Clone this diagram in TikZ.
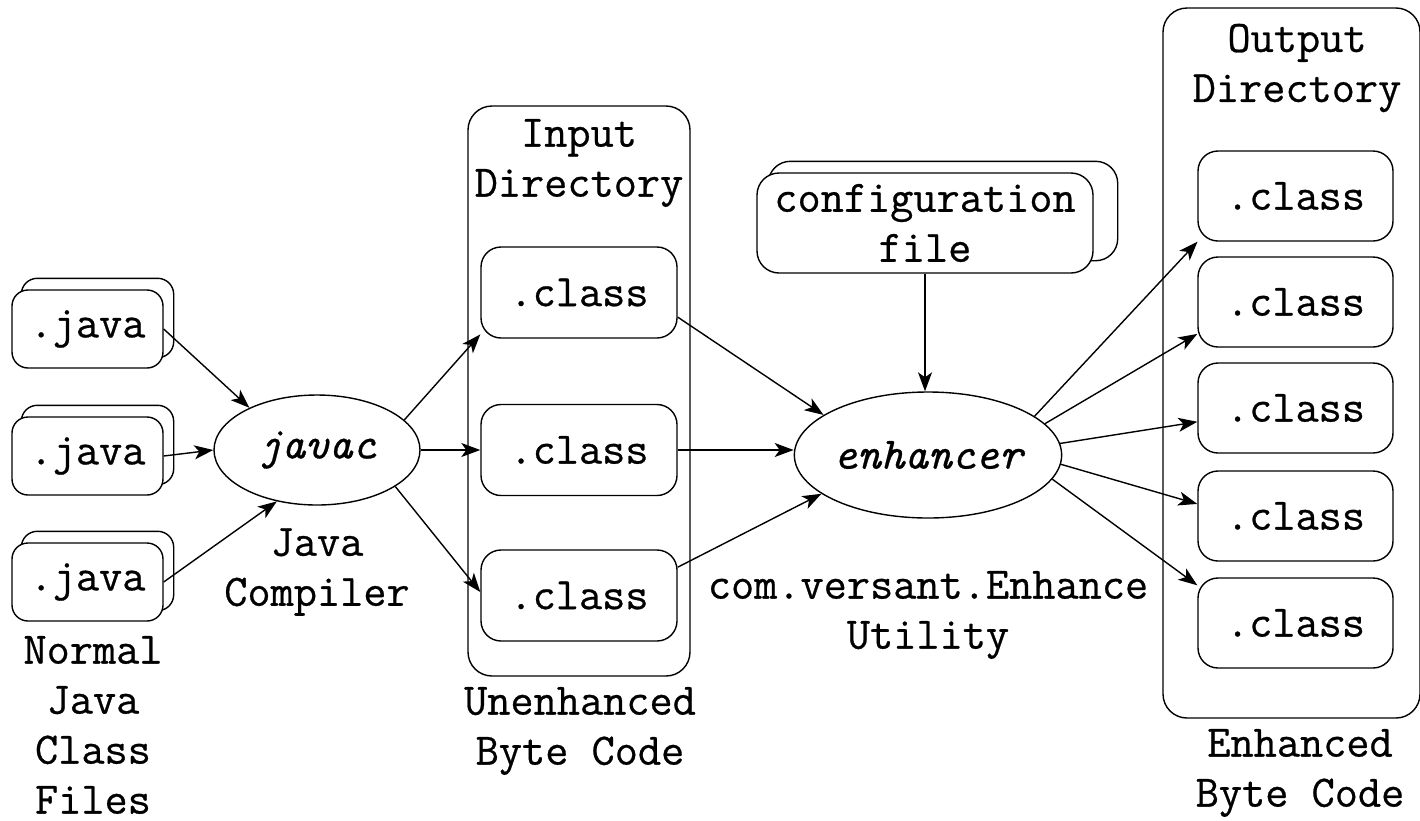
\documentclass[tikz,border=0pt]{standalone}
\usepackage{fontspec}
\setmonofont{Latin Modern Mono}[FakeBold=0.6]
\usetikzlibrary{shapes.geometric,arrows.meta,backgrounds}
\begin{document}
\begin{tikzpicture}[x=1pt,y=-1pt,line width=1.4pt,
  every node/.style={font=\ttfamily\fontsize{45}{50}\selectfont,inner sep=0pt,align=center},
  javabox/.style={draw,fill=white,rounded corners=16pt,minimum width=151pt,minimum height=78pt},
  backbox/.style={draw,fill=white,line width=1.4pt,rounded corners=16pt},
  classbox/.style={draw,fill=white,rounded corners=20pt,minimum width=196pt,minimum height=91pt},
  cfgbox/.style={draw,fill=white,rounded corners=22pt,minimum width=336pt,minimum height=100pt},
  container/.style={draw,rounded corners=24pt},
  proc/.style={draw,ellipse,fill=white},
  arr/.style={-{Stealth[length=19pt,width=14pt,inset=5pt]}}
]
\useasboundingbox (0,0) rectangle (1420,820);

% containers
\node[container,minimum width=222pt,minimum height=570pt] (indir) at (579,391) {};
\node[container,minimum width=257pt,minimum height=710pt] (outdir) at (1291.5,363) {};

% java files
\node[javabox] (java1) at (87.5,329) {.java};
\node[javabox] (java2) at (87.5,456) {.java};
\node[javabox] (java3) at (87.5,582) {.java};

% javac
\node[proc,minimum width=206pt,minimum height=110pt] (javac) at (317,450) {\itshape javac};

% input classes
\node[classbox] (c1) at (579,292.5) {.class};
\node[classbox] (c2) at (579,450) {.class};
\node[classbox] (c3) at (579,595.5) {.class};

% config file
\node[cfgbox] (cfg) at (925,223) {configuration\\file};

% stacked back boxes
\begin{scope}[on background layer]
\fill[white] (0,0) rectangle (1420,820);
\foreach \j in {java1,java2,java3}
  \draw[backbox] ([shift={(10,-11)}]\j.south west) rectangle ([shift={(10,-11)}]\j.north east);
\draw[backbox,rounded corners=22pt] ([shift={(12,-13)}]cfg.south west) rectangle ([shift={(24,-11)}]cfg.north east);
\end{scope}

% enhancer
\node[proc,minimum width=260pt,minimum height=126pt] (enh) at (928,455) {\itshape enhancer};

% output classes
\node[classbox,minimum width=195pt,minimum height=90pt] (o1) at (1295.5,196) {.class};
\node[classbox,minimum width=195pt,minimum height=90pt] (o2) at (1295.5,302) {.class};
\node[classbox,minimum width=195pt,minimum height=90pt] (o3) at (1295.5,408) {.class};
\node[classbox,minimum width=195pt,minimum height=90pt] (o4) at (1295.5,516) {.class};
\node[classbox,minimum width=195pt,minimum height=90pt] (o5) at (1295.5,623) {.class};

% labels
\node (lnormal) at (93,725) {Normal\\Java\\Class\\Files};
\node (lcomp) at (317,572) {Java\\Compiler};
\node (lin) at (579,163) {Input\\Directory};
\node (lunenh) at (580,731) {Unenhanced\\Byte Code};
\node (lutil) at (928,615) {com.versant.Enhance\\Utility};
\node (lout) at (1297,68) {Output\\Directory};
\node (lenh) at (1300,773) {Enhanced\\Byte Code};

% arrows
\draw[arr] (java1.east) -- (javac.148);
\draw[arr] (java2.east) -- (javac.west);
\draw[arr] (java3.east) -- (javac.232);
\draw[arr] (javac.19) -- (c1.203);
\draw[arr] (javac.east) -- (c2.west);
\draw[arr] (javac.-25) -- (c3.178);
\draw[arr] (c1.-14.6) -- (enh.159.7);
\draw[arr] (c2.east) -- (c2.east -| enh.west);
\draw[arr] (c3.16.2) -- (enh.200.3);
\draw[arr] (cfg.south) -- (cfg.south |- enh.north);
\draw[arr] (enh.20.9) -- (o1.205.4);
\draw[arr] (enh.15) -- (o2.198);
\draw[arr] (enh.5.2) -- (o3.188.2);
\draw[arr] (enh.-4.3) -- (o4.173.6);
\draw[arr] (enh.-11.4) -- (o5.159.3);
\end{tikzpicture}
\end{document}
